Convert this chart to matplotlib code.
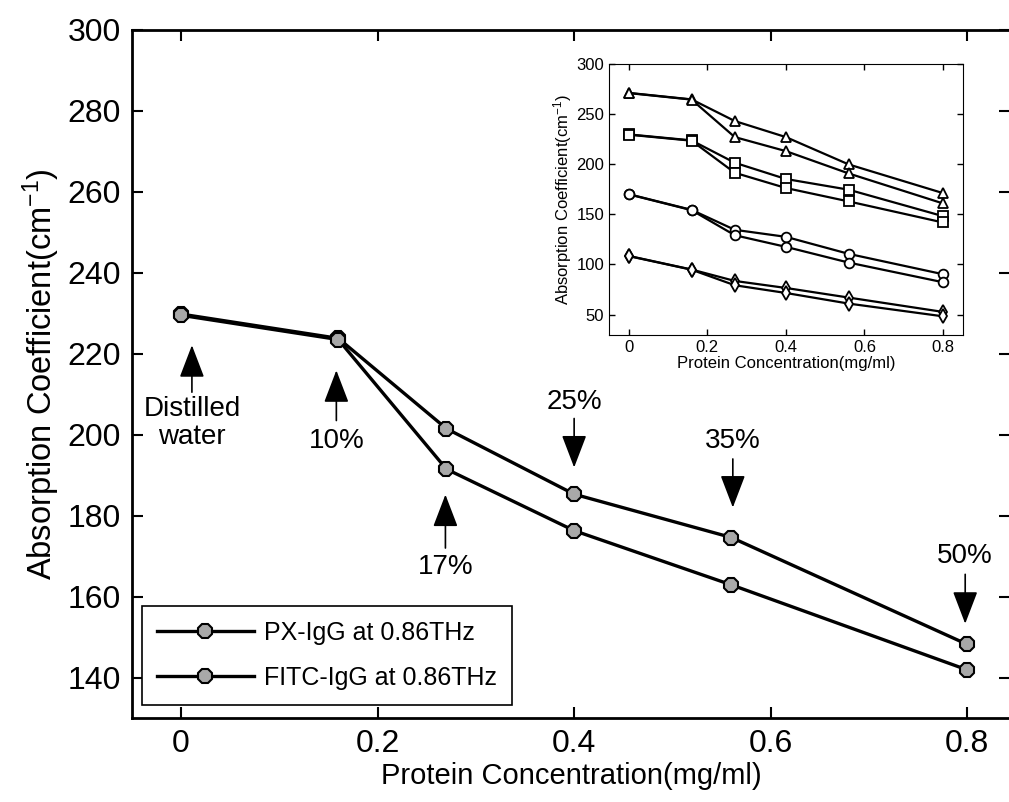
import numpy as np
import matplotlib.pyplot as plt

plt.rcParams['font.family'] = ['Liberation Sans', 'DejaVu Sans']
plt.rcParams['mathtext.fontset'] = 'custom'
plt.rcParams['mathtext.rm'] = 'Liberation Sans'
plt.rcParams['mathtext.it'] = 'Liberation Sans:italic'

# protein concentration (mg/ml)
conc = [0, 0.16, 0.27, 0.40, 0.56, 0.80]

# main plot, 0.86 THz
px_igg = [229.8, 223.8, 201.5, 185.3, 174.6, 148.2]
fitc_igg = [229.5, 223.5, 191.5, 176.3, 162.9, 141.9]

# inset: four frequencies, PX / FITC pairs
tri_px = [271.2, 264.7, 243.1, 227.1, 199.8, 171.2]
tri_fitc = [271.0, 264.5, 227.1, 213.1, 190.8, 160.9]
sq_px = px_igg
sq_fitc = fitc_igg
circ_px = [170.2, 154.5, 134.6, 127.6, 110.6, 90.3]
circ_fitc = [170.0, 154.2, 129.2, 117.6, 101.9, 82.3]
dia_px = [108.6, 95.0, 83.6, 76.6, 67.0, 52.7]
dia_fitc = [108.4, 94.8, 79.3, 71.6, 61.0, 48.3]

# labels for the arrows: (text, x, text y, arrow base y, arrow tip y)
notes = [
    ('Distilled\nwater', 0.011, 203.0, 210.5, 222.1),
    ('10%', 0.158, 198.5, 203.5, 215.9),
    ('17%', 0.269, 167.4, 172.0, 185.2),
    ('25%', 0.400, 208.0, 204.0, 191.9),
    ('35%', 0.5615, 198.5, 194.0, 182.0),
    ('50%', 0.798, 170.1, 165.5, 153.3),
]

fig = plt.figure(figsize=(10.09, 8.02), dpi=100)
# right edge of the frame is cut off in the original
ax = fig.add_axes([0.1308, 0.1047, 0.8702, 0.858])

mk = dict(marker='8', markersize=11, markerfacecolor='#a8a8a8',
          markeredgecolor='black', markeredgewidth=1.5)
ax.plot(conc, px_igg, color='black', linewidth=2.4,
        label='PX-IgG at 0.86THz', **mk)
ax.plot(conc, fitc_igg, color='black', linewidth=2.4,
        label='FITC-IgG at 0.86THz', **mk)

ax.set_xlim(-0.05, 0.8436)
ax.set_ylim(130, 300)
ax.set_xticks([0, 0.2, 0.4, 0.6, 0.8])
ax.set_xticklabels(['0', '0.2', '0.4', '0.6', '0.8'])
ax.set_yticks(np.arange(140, 301, 20))
ax.tick_params(direction='in', length=8, width=1.5, labelsize=23,
               top=True, right=True, pad=8)
for s in ax.spines.values():
    s.set_linewidth(2)
ax.set_xlabel('Protein Concentration(mg/ml)', fontsize=21, labelpad=2)
ax.set_ylabel('Absorption Coefficient(cm$^{-1}$)', fontsize=23.5, labelpad=4)

for text, x, ty, y0, y1 in notes:
    ax.annotate('', xy=(x, y1), xytext=(x, y0),
                arrowprops=dict(arrowstyle='-|>,head_length=1.7,head_width=0.65',
                                color='black', linewidth=1.2, mutation_scale=12,
                                shrinkA=0, shrinkB=0))
    ax.text(x, ty, text, fontsize=20, ha='center', va='center',
            linespacing=1.1)

leg = ax.legend(loc='lower left', bbox_to_anchor=(0.011, 0.019),
                borderaxespad=0, fontsize=18, handlelength=3.9,
                handletextpad=0.4, fancybox=False, edgecolor='black',
                framealpha=1, borderpad=0.6, labelspacing=0.85)
leg.get_frame().set_linewidth(1.2)

# inset
ins = fig.add_axes([0.6036, 0.5827, 0.3505, 0.3375])
pairs = [(tri_px, tri_fitc, '^'), (sq_px, sq_fitc, 's'),
         (circ_px, circ_fitc, 'o'), (dia_px, dia_fitc, 'd')]
for a, b, m in pairs:
    for vals in (a, b):
        ins.plot(conc, vals, color='black', linewidth=1.6, marker=m,
                 markersize=7, markerfacecolor='white',
                 markeredgecolor='black', markeredgewidth=1.3)
ins.set_xlim(-0.05, 0.85)
ins.set_ylim(30, 300)
ins.set_xticks([0, 0.2, 0.4, 0.6, 0.8])
ins.set_xticklabels(['0', '0.2', '0.4', '0.6', '0.8'])
ins.set_yticks(np.arange(50, 301, 50))
ins.tick_params(direction='in', length=4, width=1, labelsize=12,
                top=True, right=True)
ins.set_xlabel('Protein Concentration(mg/ml)', fontsize=12, labelpad=1)
ins.set_ylabel('Absorption Coefficient(cm$^{-1}$)', fontsize=12, labelpad=2)

fig.savefig('out.png', dpi=100)
